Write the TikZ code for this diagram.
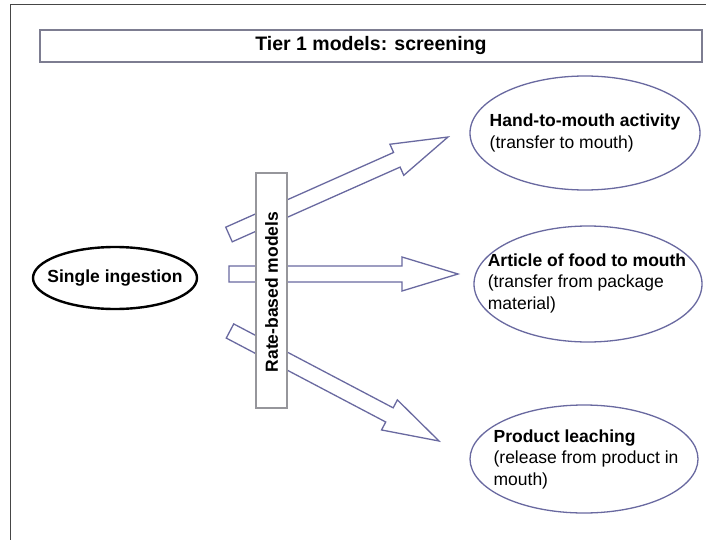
\documentclass[tikz,border=0pt]{standalone}
\usepackage{fontspec}
\setmainfont{Liberation Sans}
\usetikzlibrary{shapes.geometric,calc}
\definecolor{arrowc}{RGB}{105,105,160}
\definecolor{framec}{RGB}{70,70,70}
\definecolor{boxc}{RGB}{125,125,145}
\definecolor{rectc}{RGB}{150,150,155}
\newcommand\blockarr[2]{%
  \draw[arrowline]
    ($(#1)!8pt!90:(#2)$) --
    ($($(#2)!56pt!(#1)$)!8pt!-90:(#1)$) --
    ($($(#2)!56pt!(#1)$)!17pt!-90:(#1)$) --
    (#2) --
    ($($(#2)!56pt!(#1)$)!17pt!90:(#1)$) --
    ($($(#2)!56pt!(#1)$)!8pt!90:(#1)$) --
    ($(#1)!8pt!-90:(#2)$) -- cycle;}
\begin{document}
\begin{tikzpicture}[x=1pt,y=-1pt,
  arrowline/.style={draw=arrowc, line width=1.3pt, fill=white, line join=miter},
  oval/.style={ellipse, draw=arrowc, line width=1.3pt, inner sep=0pt},
  txt/.style={font=\fontsize{17.5}{21.5}\selectfont, align=left, inner sep=0pt},
  boldtxt/.style={font=\bfseries\fontsize{17.5}{21.5}\selectfont, inner sep=0pt}]
\useasboundingbox (0,0) rectangle (706,540);
\fill[white] (0,0) rectangle (706,540);
% frame
\coordinate (fl) at (10,540);
\coordinate (fc) at (10,5);
\coordinate (fr) at (706,5);
\draw[framec, line width=1pt] (fl) -- (fc) -- (fr);
% title
\node[draw=boxc, line width=2pt, fill=white, minimum width=662, minimum height=32, inner sep=0pt,
  font=\bfseries\fontsize{19.5}{22}\selectfont] (title) at (371,46) {Tier 1 models: screening};
% single ingestion
\node[ellipse, draw=black, line width=2.4pt, minimum width=164, minimum height=62, inner sep=0pt] (si) at (115,278) {};
\node[boldtxt] (sit) at (si.center) {Single ingestion};
% arrows
\coordinate (t1) at (229,234.5);
\coordinate (p1) at (448,137);
\coordinate (t2) at (229,274);
\coordinate (p2) at (458,274);
\coordinate (t3) at (230,331);
\coordinate (p3) at (439,441);
\blockarr{t1}{p1}
\blockarr{t2}{p2}
\blockarr{t3}{p3}
% rate-based models
\node[draw=rectc, line width=1.2pt, fill=white, minimum width=31, minimum height=235, inner sep=0pt] (rate) at (271.5,290.5) {};
\node[boldtxt, rotate=90] (ratet) at (271.5,292) {Rate-based models};
% right ellipses
\node[oval, minimum width=230, minimum height=114] (e1) at (585,133) {};
\node[txt] (e1t) at (e1.center) {\textbf{Hand-to-mouth activity}\\(transfer to mouth)};
\node[oval, minimum width=228, minimum height=116] (e2) at (588,284) {};
\node[txt] (e2t) at (587,283) {\textbf{Article of food to mouth}\\(transfer from package\\material)};
\node[oval, minimum width=228, minimum height=108] (e3) at (584,459) {};
\node[txt] (e3t) at (586,459) {\textbf{Product leaching}\\(release from product in\\mouth)};
\end{tikzpicture}
\end{document}
